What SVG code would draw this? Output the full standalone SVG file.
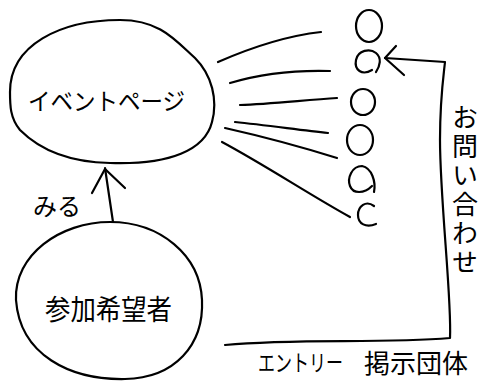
<svg xmlns="http://www.w3.org/2000/svg" width="483" height="381" viewBox="0 0 483 381">
<style>
.s{fill:none;stroke:#000;stroke-width:2.2;stroke-linecap:round;stroke-linejoin:round}
.t{font-family:"Noto Sans CJK JP","Noto Sans",sans-serif;fill:#000}
</style>
<rect width="483" height="381" fill="#fff"/>
<g id="event-page">
<path class="s" d="M 10,92 C 10,45 60,20 120,20 C 160,20 175,40 195,58 C 212,75 218,100 212,122 C 205,150 170,165 110,163 C 60,162 35,145 20,130 C 10,118 10,105 10,92 Z"/>
<text class="t" x="28" y="110" font-size="24" textLength="157" lengthAdjust="spacingAndGlyphs">イベントページ</text>
</g>
<g id="participant">
<path class="s" d="M 110,222 C 160,222 200,255 202,300 C 204,345 175,378 125,379 C 70,380 20,355 16,300 C 14,255 60,222 110,222 Z"/>
<text class="t" x="45" y="320" font-size="28" textLength="127" lengthAdjust="spacingAndGlyphs">参加希望者</text>
</g>
<g id="items">
<ellipse class="s" cx="369" cy="26" rx="13" ry="16"/>
<path class="s" d="M 376,72 C 380,66 382,58 376,53 C 370,48 358,50 356,60 C 354,70 362,76 372,70"/>
<ellipse class="s" cx="363" cy="102" rx="12" ry="13"/>
<ellipse class="s" cx="360" cy="140" rx="13" ry="15"/>
<path class="s" d="M 374,192 C 376,182 372,168 362,166 C 352,166 347,178 350,186 C 353,194 364,194 372,186"/>
<path class="s" d="M 374,206 C 366,200 358,206 358,215 C 358,224 366,228 376,224"/>
</g>
<g id="inquiry">
<text class="t" x="465" y="104" font-size="26" writing-mode="vertical-rl" letter-spacing="3">お問い合わせ</text>
</g>
<g id="entry">
<text class="t" x="258" y="275" font-size="17" transform="scale(1,1.35)">エントリー</text>
<text class="t" x="364" y="373" font-size="26">掲示団体</text>
</g>
<g id="connectors">
<path class="s" d="M 218,62 C 250,48 285,36 321,32"/>
<path class="s" d="M 230,83 C 260,74 295,70 330,71"/>
<path class="s" d="M 240,105 C 270,104 305,100 337,98"/>
<path class="s" d="M 235,122 C 265,125 300,130 328,133"/>
<path class="s" d="M 225,128 C 265,137 305,148 337,158"/>
<path class="s" d="M 222,142 C 265,165 310,195 350,217"/>
<path class="s" d="M 113,222 L 105,168"/>
<path class="s" d="M 92,193 L 105,169 L 125,188"/>
<path class="s" d="M 225,345 C 300,338 380,344 450,338 C 452,300 440,200 440,140 C 440,100 443,80 445,62 L 385,58"/>
<path class="s" d="M 396,46 L 385,58 L 404,75"/>
<text class="t" x="33" y="215" font-size="24">みる</text>
</g>
</svg>
